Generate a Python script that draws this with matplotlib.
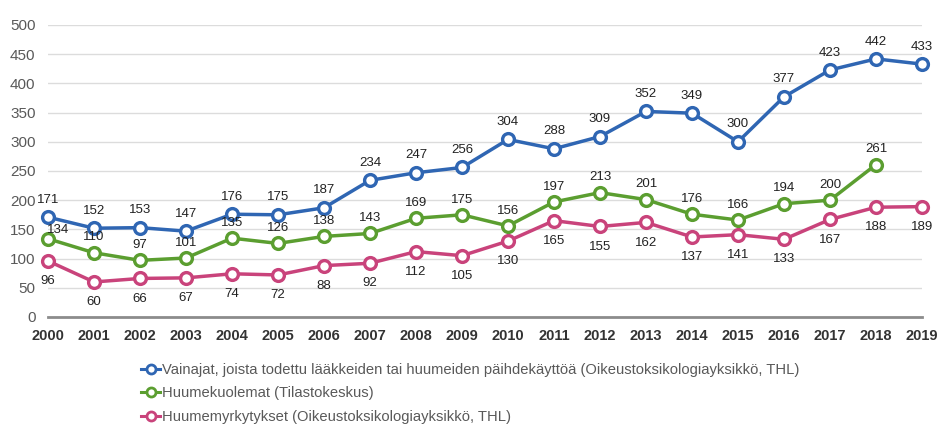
import matplotlib
matplotlib.use("Agg")
import matplotlib.pyplot as plt
from matplotlib.lines import Line2D

plt.rcParams["font.family"] = ["Liberation Sans", "DejaVu Sans"]

years = list(range(2000, 2020))
vainajat = [171, 152, 153, 147, 176, 175, 187, 234, 247, 256, 304, 288, 309, 352, 349, 300, 377, 423, 442, 433]
huumekuolemat = [134, 110, 97, 101, 135, 126, 138, 143, 169, 175, 156, 197, 213, 201, 176, 166, 194, 200, 261]
myrkytykset = [96, 60, 66, 67, 74, 72, 88, 92, 112, 105, 130, 165, 155, 162, 137, 141, 133, 167, 188, 189]
labels = [
    "Vainajat, joista todettu lääkkeiden tai huumeiden päihdekäyttöä (Oikeustoksikologiayksikkö, THL)",
    "Huumekuolemat (Tilastokeskus)",
    "Huumemyrkytykset (Oikeustoksikologiayksikkö, THL)",
]
colors = ["#2f66b3", "#5b9e30", "#c9437b"]

W, H = 940, 424
fig = plt.figure(figsize=(W / 100, H / 100), dpi=100)
ax = fig.add_axes([48 / W, 1 - 317 / H, (922 - 48) / W, (317 - 25) / H])
ax.set_xlim(2000, 2019)
ax.set_ylim(0, 500)

series = [vainajat, huumekuolemat, myrkytykset]
for vals, c in zip(series, colors):
    ax.plot(years[:len(vals)], vals, color=c, lw=2.5, marker="o", ms=8.5,
            mfc="white", mec=c, mew=2.4, clip_on=False, zorder=3)

fs = 9.5
tc = "#222222"
for i, v in enumerate(vainajat):
    ax.annotate(str(v), (years[i], v), xytext=(0, 12.5), textcoords="offset points",
                ha="center", va="center", fontsize=fs, color=tc)
for i, v in enumerate(huumekuolemat):
    off = (7, 6) if i == 0 else (0, 11)
    ax.annotate(str(v), (years[i], v), xytext=off, textcoords="offset points",
                ha="center", va="center", fontsize=fs, color=tc)
for i, v in enumerate(myrkytykset):
    ax.annotate(str(v), (years[i], v), xytext=(0, -14.5), textcoords="offset points",
                ha="center", va="center", fontsize=fs, color=tc)

ax.set_yticks(range(0, 501, 50))
ax.set_xticks(years)
ax.tick_params(axis="y", length=0, pad=9, labelsize=11, labelcolor="#595959")
ax.tick_params(axis="x", length=0, pad=9, labelsize=10.5)
for t in ax.get_xticklabels():
    t.set_fontweight("bold")
    t.set_color("#333333")
ax.grid(axis="y", color="#dcdcdc", lw=1)
ax.set_axisbelow(True)
for s in ["top", "right", "left"]:
    ax.spines[s].set_visible(False)
ax.spines["bottom"].set_color("#8c8c8c")
ax.spines["bottom"].set_linewidth(2)
ax.spines["bottom"].set_zorder(1)

handles = [Line2D([0], [0], color=c, lw=2.2, marker="o", ms=6.5, mfc="white", mec=c, mew=2)
           for c in colors]
fig.legend(handles, labels, loc="upper left", bbox_to_anchor=(141 / W, 1 - 363 / H),
           frameon=False, fontsize=10.6, handlelength=1.3, handletextpad=0.15,
           labelspacing=0.64, labelcolor="#595959", borderaxespad=0, borderpad=0)

fig.savefig("out.png", dpi=100)
